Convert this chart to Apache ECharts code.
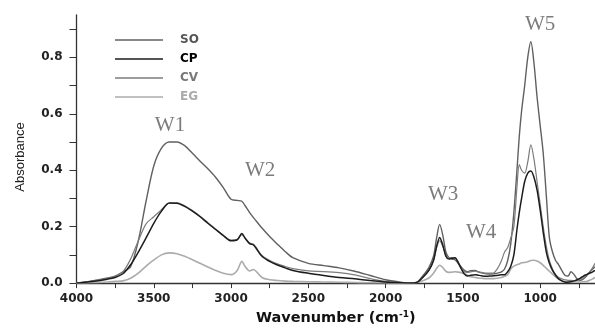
<!DOCTYPE html>
<html><head><meta charset="utf-8">
<script src="https://cdn.jsdelivr.net/npm/echarts@6/dist/echarts.min.js"></script>
<style>html,body{margin:0;padding:0;background:#fff;overflow:hidden}#c{width:595px;height:331px}</style>
</head><body><div id="c"></div>
<script>
const wavenumbers = [4000,3900,3800,3750,3700,3650,3600,3550,3500,3450,3400,3350,3300,3250,3200,3150,3100,3050,3000,
 2960,2930,2910,2880,2855,2840,2800,2750,2700,2650,2600,2500,2400,2300,2200,2100,2000,1900,1850,
 1800,1760,1720,1690,1670,1650,1630,1610,1590,1570,1550,1530,1510,1490,1470,1450,1420,1400,1380,1350,1320,1300,1270,1250,1230,
 1210,1190,1170,1150,1135,1120,1100,1080,1060,1040,1020,1000,980,960,940,920,900,880,860,840,820,800,780,760,740,720,700,680,660,645];

const SO = [0,0.008,0.018,0.025,0.04,0.058,0.15,0.29,0.415,0.478,0.5,0.5,0.487,0.46,0.432,0.405,0.375,0.338,0.297,
 0.293,0.29,0.275,0.25,0.232,0.222,0.195,0.165,0.138,0.112,0.09,0.07,0.062,0.054,0.042,0.027,0.012,0.003,0,
 0.002,0.025,0.055,0.095,0.16,0.208,0.17,0.11,0.09,0.085,0.082,0.07,0.057,0.045,0.04,0.044,0.045,0.04,0.036,0.033,0.032,0.033,0.036,0.04,0.05,
 0.08,0.14,0.25,0.4,0.52,0.61,0.7,0.8,0.855,0.78,0.66,0.56,0.46,0.31,0.16,0.11,0.08,0.065,0.045,0.028,0.025,0.04,0.03,0.015,0.01,0.015,0.025,0.038,0.05,0.058];

const CP = [0,0.006,0.014,0.02,0.033,0.065,0.11,0.16,0.212,0.255,0.284,0.283,0.272,0.255,0.235,0.212,0.19,0.168,0.15,
 0.153,0.176,0.16,0.14,0.135,0.125,0.095,0.077,0.064,0.054,0.045,0.035,0.027,0.02,0.015,0.009,0.004,0.001,0,
 0.002,0.02,0.045,0.08,0.13,0.162,0.135,0.095,0.085,0.088,0.09,0.072,0.05,0.032,0.025,0.028,0.03,0.028,0.026,0.024,0.025,0.026,0.028,0.03,0.03,
 0.04,0.06,0.1,0.19,0.25,0.3,0.36,0.39,0.397,0.375,0.33,0.26,0.18,0.11,0.07,0.045,0.028,0.015,0.008,0.004,0.003,0.005,0.008,0.012,0.018,0.025,0.03,0.035,0.04,0.045];

const CV = [0,0.007,0.016,0.024,0.04,0.085,0.15,0.21,0.235,0.26,0.283,0.284,0.274,0.257,0.237,0.214,0.192,0.17,0.152,
 0.155,0.172,0.16,0.142,0.138,0.128,0.098,0.08,0.068,0.059,0.051,0.043,0.041,0.037,0.029,0.016,0.006,0.001,0,
 0.002,0.02,0.045,0.08,0.125,0.15,0.13,0.1,0.09,0.09,0.088,0.075,0.055,0.04,0.038,0.04,0.042,0.04,0.038,0.035,0.035,0.036,0.057,0.08,0.11,
 0.126,0.16,0.2,0.34,0.42,0.4,0.39,0.43,0.49,0.44,0.36,0.28,0.2,0.13,0.08,0.05,0.03,0.02,0.015,0.012,0.01,0.01,0.008,0.01,0.015,0.022,0.03,0.04,0.055,0.07];

const EG = [0,0.002,0.004,0.006,0.008,0.017,0.035,0.06,0.082,0.1,0.107,0.104,0.095,0.083,0.07,0.057,0.045,0.035,0.03,
 0.045,0.077,0.06,0.043,0.048,0.043,0.02,0.012,0.009,0.007,0.006,0.005,0.004,0.003,0.002,0.001,0.001,0,0,
 0.002,0.008,0.018,0.035,0.052,0.063,0.055,0.042,0.038,0.039,0.04,0.039,0.037,0.033,0.028,0.023,0.02,0.018,0.017,0.016,0.016,0.016,0.018,0.02,0.024,
 0.03,0.05,0.06,0.065,0.068,0.072,0.073,0.076,0.08,0.081,0.078,0.072,0.063,0.052,0.042,0.032,0.022,0.014,0.01,0.006,0.004,0.004,0.004,0.004,0.004,0.005,0.006,0.01,0.015,0.02];

const seriesNames = ['SO','CP','CV','EG'];
const annoLabels = ['W1','W2','W3','W4','W5'];
const annoWn = [3395,2812,1628,1382,1000];
const annoAbs = [0.557,0.40,0.313,0.181,0.915];

const xTickValues = [4000,3750,3500,3250,3000,2750,2500,2250,2000,1750,1500,1250,1000,750];
const xLabelValues = [4000,3500,3000,2500,2000,1500,1000];
const yTickValues = [0,0.1,0.2,0.3,0.4,0.5,0.6,0.7,0.8,0.9];
const yLabelValues = [0,0.2,0.4,0.6,0.8];

const lineColors = ['#606060','#1c1c1c','#7c7c7c','#ababab'];
const legendColors = ['#555','#000','#777','#aaa'];
const lineWidths = [1.4,1.5,1.2,1.6];
const allValues = [SO,CP,CV,EG];

const chart = echarts.init(document.getElementById('c'), null, {renderer:'canvas'});
const tickFont = {fontFamily:'DejaVu Sans', fontWeight:'bold', fontSize:12, color:'#222'};

const series = seriesNames.map((n,k)=>({
  name:n, type:'line', symbol:'none', smooth:0.3,
  data: wavenumbers.map((w,i)=>[w, allValues[k][i]]),
  lineStyle:{color:lineColors[k], width:lineWidths[k]},
  itemStyle:{color:lineColors[k]},
  z: k===1 ? 4 : 3
}));
series.push({
  type:'scatter', symbolSize:0, silent:true,
  data: annoLabels.map((t,i)=>({name:t, value:[annoWn[i], annoAbs[i]]})),
  label:{show:true, position:'inside', formatter:p=>p.name,
    fontFamily:'Liberation Serif', fontSize:21, color:'#5a5a5a'}
});

chart.setOption({
  animation:false,
  grid:{left:76.5, right:0, top:15, bottom:43, containLabel:false},
  legend:{
    orient:'vertical', left:115, top:34, padding:0, icon:'rect', itemWidth:48, itemHeight:1.6, itemGap:7,
    data: seriesNames.map((n,k)=>({name:n, textStyle:{color:legendColors[k]}})),
    textStyle:{fontFamily:'DejaVu Sans', fontWeight:'bold', fontSize:12, padding:[0,0,0,12]}
  },
  xAxis:{
    type:'value', inverse:true, min:645, max:4000,
    axisLine:{lineStyle:{color:'#333', width:1.3}},
    axisTick:{show:true, length:5, lineStyle:{color:'#333'}, customValues:xTickValues},
    splitLine:{show:false},
    axisLabel:Object.assign({margin:10, customValues:xLabelValues, formatter:v=>String(Math.round(v))}, tickFont),
    name:'Wavenumber (cm{sup|-1})', nameLocation:'middle', nameGap:26,
    nameTextStyle:{fontFamily:'DejaVu Sans', fontWeight:'bold', fontSize:14.5, color:'#111',
      rich:{sup:{fontFamily:'DejaVu Sans', fontWeight:'bold', fontSize:9, color:'#111', verticalAlign:'top', padding:[0,0,8,0]}}}
  },
  yAxis:{
    type:'value', min:0, max:0.95,
    axisLine:{show:true, lineStyle:{color:'#333', width:1.3}},
    axisTick:{show:true, length:7, lineStyle:{color:'#333'}, customValues:yTickValues},
    splitLine:{show:false},
    axisLabel:Object.assign({margin:14, customValues:yLabelValues, formatter:v=>Number(v).toFixed(1)}, tickFont),
    name:'Absorbance', nameLocation:'middle', nameGap:50, nameRotate:90,
    nameTextStyle:{fontFamily:'Liberation Sans', fontSize:13, color:'#222', padding:[0,16,0,0]}
  },
  series: series
});
</script></body></html>
